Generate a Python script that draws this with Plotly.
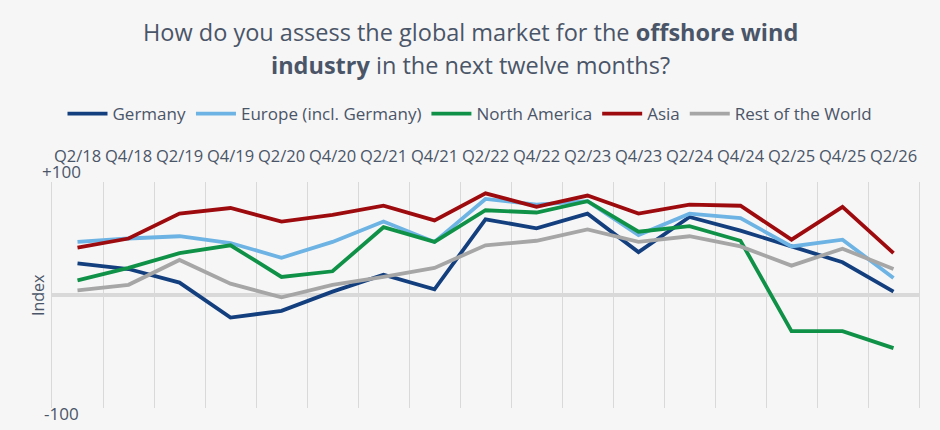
import plotly.graph_objects as go

quarters = ["Q2/18", "Q4/18", "Q2/19", "Q4/19", "Q2/20", "Q4/20", "Q2/21", "Q4/21",
            "Q2/22", "Q4/22", "Q2/23", "Q4/23", "Q2/24", "Q4/24", "Q2/25", "Q4/25", "Q2/26"]

germany = [28, 23, 11, -20, -14, 3, 18, 5, 67, 59, 72, 38, 69, 57, 43, 29, 3]
europe = [47, 50, 52, 46, 33, 47, 65, 47, 85, 80, 83, 53, 72, 68, 43, 49, 15]
north_america = [13, 24, 37, 44, 16, 21, 60, 47, 75, 73, 83, 56, 61, 48, -32, -32, -47]
asia = [42, 50, 72, 77, 65, 71, 79, 66, 90, 78, 88, 72, 80, 79, 49, 78, 37]
rest_world = [4, 9, 31, 10, -2, 9, 16, 24, 44, 48, 58, 47, 52, 43, 26, 41, 23]

series = [
    ("Germany", germany, "#133f7f"),
    ("Europe (incl. Germany)", europe, "#6db3e3"),
    ("North America", north_america, "#0f9248"),
    ("Asia", asia, "#9e0b0f"),
    ("Rest of the World", rest_world, "#a6a6a6"),
]

FONT = "Open Sans"
TXT = "#4a5568"

L, R, T, B = 52, 21, 182, 22
W, H = 940, 430
plot_w = W - L - R
plot_h = H - T - B

def px_to_paper(px, py):
    return (px - L) / plot_w, (H - B - py) / plot_h

fig = go.Figure()
for name, vals, color in series:
    fig.add_trace(go.Scatter(
        x=quarters, y=vals, name=name, mode="lines",
        line=dict(color=color, width=3.8),
    ))

texts = [
    ("How do you assess the global market for the <b>offshore wind</b>", 470, 32, 23.5, 0),
    ("<b>industry</b> in the next twelve months?", 470, 65, 23.5, 0),
    ("+100", 61, 172, 17, 0),
    ("-100", 61, 413, 17, 0),
    ("Index", 38, 295, 16, -90),
]
annotations = []
for txt, px, py, size, ang in texts:
    xx, yy = px_to_paper(px, py)
    annotations.append(dict(
        text=txt, xref="paper", yref="paper", x=xx, y=yy, showarrow=False,
        xanchor="center", yanchor="middle", textangle=ang,
        font=dict(family=FONT, size=size, color=TXT),
    ))

fig.update_layout(
    width=W, height=H,
    margin=dict(l=L, r=R, t=T, b=B, autoexpand=False),
    paper_bgcolor="#f6f6f6",
    plot_bgcolor="rgba(0,0,0,0)",
    font=dict(family=FONT, color=TXT),
    showlegend=True,
    legend=dict(
        orientation="h", x=0.5, xanchor="center", xref="container",
        y=1 - 114 / H, yanchor="middle", yref="container",
        font=dict(family=FONT, size=17, color=TXT),
        itemwidth=40, tracegroupgap=0,
        bgcolor="rgba(0,0,0,0)",
    ),
    annotations=annotations,
)

fig.update_xaxes(
    type="category", side="top", range=[-0.5, 16.5],
    showgrid=True, gridcolor="#d9d9d9", gridwidth=1,
    tickson="boundaries", ticks="", showline=False,
    tickangle=0, automargin=False,
    tickfont=dict(family=FONT, size=16.5, color=TXT),
    ticklabelstandoff=16,
    zeroline=False,
)
fig.update_yaxes(
    range=[-100, 100], showgrid=False, showticklabels=False,
    zeroline=True, zerolinecolor="#d9d9d9", zerolinewidth=4,
    showline=True, linecolor="#d9d9d9", linewidth=1, mirror=True,
    ticks="", automargin=False,
)

fig.write_html("out.html")
